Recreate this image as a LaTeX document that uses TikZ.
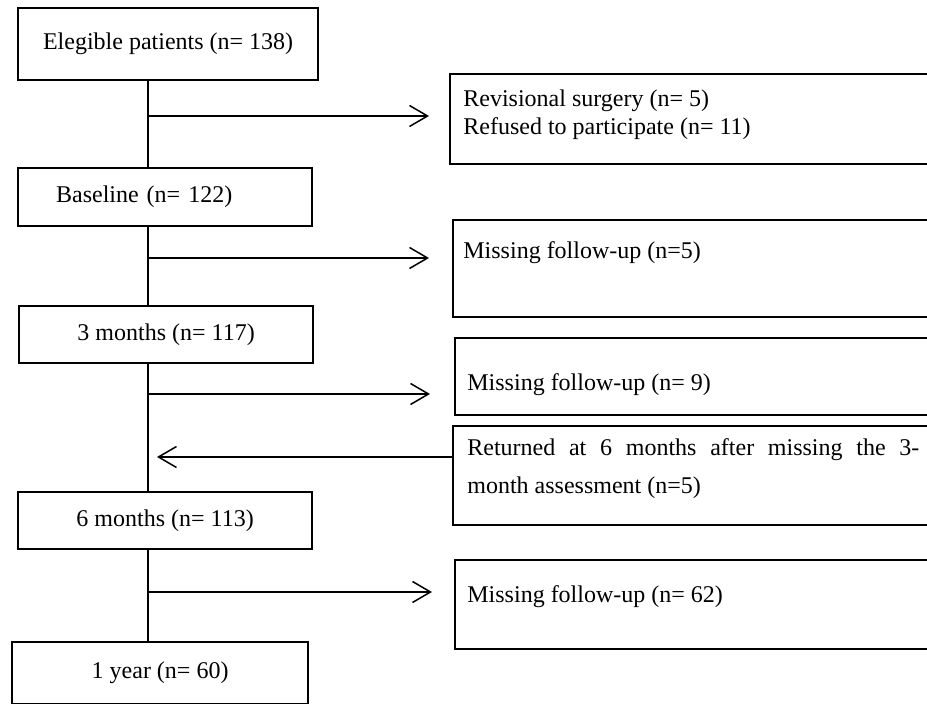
\documentclass[tikz,border=0pt]{standalone}
\usepackage{fontspec}
\setmainfont{Liberation Serif}
\usepackage{tikz}
\usetikzlibrary{arrows.meta}

\begin{document}
\begin{tikzpicture}[x=0.5pt, y=-0.5pt, font=\fontsize{12}{14}\selectfont,
    lbox/.style={draw, line width=1.1pt, inner sep=0pt, anchor=north west, minimum width=147pt},
    rbox/.style={draw, line width=1.1pt, inner sep=0pt, anchor=north west, minimum width=245pt},
    txt/.style={anchor=west, inner sep=0pt, align=left},
    link/.style={line width=0.75pt},
    arr/.style={link, -{Straight Barb[length=9pt, width=10.5pt]}}]
    \useasboundingbox (0,0) rectangle (927,704);
    \clip (0,0) rectangle (927,704);

    \node[lbox, minimum width=150pt, minimum height=36pt] (b1) at (17,7)  {Elegible patients (n= 138)};
    \node[lbox, minimum height=29pt, inner xsep=19pt, text width=109pt, align=left] (b2) at (17,167) {Baseline (n= 122)};
    \node[lbox, minimum height=28.5pt] (b3) at (18,305) {3 months (n= 117)};
    \node[lbox, minimum height=28.5pt] (b4) at (17,491) {6 months (n= 113)};
    \node[lbox, minimum width=148pt, minimum height=31pt] (b5) at (11,641) {1 year (n= 60)};

    \node[rbox, minimum height=45pt]   (r1) at (449,73)  {};
    \node[rbox, minimum height=48.5pt] (r2) at (452,219) {};
    \node[rbox, minimum height=38.5pt] (r3) at (454,337) {};
    \node[rbox, minimum height=49.5pt] (r4) at (452,425) {};
    \node[rbox, minimum height=44.5pt] (r5) at (454,559) {};

    \node[txt] (t1) at (463,115) {Revisional surgery (n= 5)\\Refused to participate (n= 11)};
    \node[txt] (t2) at (463,253) {Missing follow-up (n=5)};
    \node[txt] (t3) at (467,385) {Missing follow-up (n= 9)};
    \node[txt] (t4) at (467,469) {\makebox[226pt][s]{Returned at 6 months after missing the 3-}\\[5pt]month assessment (n=5)};
    \node[txt] (t5) at (467,597) {Missing follow-up (n= 62)};

    \coordinate (sp) at (148,0);
    \coordinate (e1) at (429,116);
    \coordinate (e2) at (429,258);
    \coordinate (e3) at (430,394);
    \coordinate (e4) at (432,592);
    \coordinate (e5) at (157,457);

    \foreach \a/\b in {b1/b2,b2/b3,b3/b4,b4/b5}{
      \draw[link] (\a.south -| sp) -- (\b.north -| sp);
    }
    \foreach \e in {e1,e2,e3,e4}{
      \draw[arr] (\e -| sp) -- (\e);
    }
    \draw[arr] (r4.west |- e5) -- (e5);
\end{tikzpicture}
\end{document}
